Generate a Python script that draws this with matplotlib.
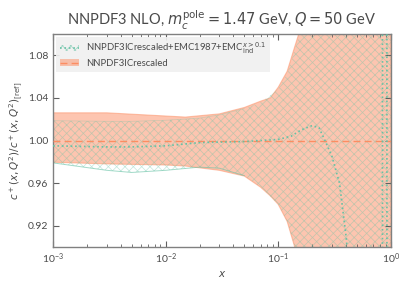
import numpy as np
import matplotlib
matplotlib.use("Agg")
import matplotlib.pyplot as plt
from matplotlib.patches import Patch
from matplotlib.lines import Line2D

plt.rcParams['font.family'] = ['Lato', 'DejaVu Sans']
plt.rcParams['mathtext.fontset'] = 'dejavusans'
plt.rcParams['hatch.linewidth'] = 0.5

TXT = '#4a4a4a'
ORANGE = '#fc8d62'
TEAL = '#66c2a5'

# NNPDF3ICrescaled (reference) band
x_ref = [1e-3, 3e-3, 1e-2, 1.5e-2, 3e-2, 5e-2, 7e-2, 0.085, 0.1, 0.12, 0.14, 0.15, 0.2, 0.3, 0.5, 0.7, 1.0]
ref_cv = [1.0] * len(x_ref)
ref_up = [1.026, 1.026, 1.023, 1.022, 1.025, 1.031, 1.037, 1.040, 1.050, 1.065, 1.088, 1.098, 1.2, 1.4, 1.8, 2.5, 4.0]
ref_lo = [0.9796, 0.978, 0.977, 0.976, 0.972, 0.9666, 0.956, 0.948, 0.94, 0.924, 0.90, 0.885, 0.8, 0.6, 0.2, -0.5, -2.0]

# NNPDF3ICrescaled+EMC1987+EMC_ind band
x_emc = [1e-3, 3e-3, 5e-3, 1e-2, 2e-2, 3e-2, 5e-2, 7e-2, 0.1, 0.12, 0.14, 0.15, 0.2, 0.3, 0.5, 0.7, 1.0]
emc_up = [1.0186, 1.018, 1.018, 1.019, 1.021, 1.024, 1.030, 1.036, 1.048, 1.063, 1.085, 1.095, 1.2, 1.4, 1.8, 2.5, 4.0]
emc_lo = [0.979, 0.972, 0.970, 0.972, 0.975, 0.974, 0.967, 0.956, 0.94, 0.924, 0.90, 0.885, 0.8, 0.6, 0.2, -0.5, -2.0]

x_cv = [1e-3, 3e-3, 5e-3, 1e-2, 2e-2, 3e-2, 5e-2, 0.1, 0.13, 0.16, 0.2, 0.23, 0.26, 0.3, 0.35, 0.4, 0.45, 0.6, 0.84, 0.845, 0.92, 0.925, 1.0]
emc_cv = [0.995, 0.994, 0.994, 0.995, 0.998, 0.9985, 0.999, 1.001, 1.004, 1.010, 1.014, 1.012, 1.0, 0.985, 0.96, 0.91, 0.85, 0.5, 0.2, 1.8, 1.8, 0.2, 0.2]

fig = plt.figure(figsize=(4.11, 2.87), dpi=100)
ax = fig.add_axes([0.129, 0.1394, 0.822, 0.7421])

ax.fill_between(x_ref, ref_lo, ref_up, facecolor=ORANGE, alpha=0.5, edgecolor=ORANGE, lw=0.8, zorder=1)
ax.plot(x_ref, ref_cv, color=ORANGE, ls=(0, (5, 3)), lw=1.0, zorder=3)

ax.fill_between(x_emc, emc_lo, emc_up, facecolor='none', edgecolor=TEAL, hatch='xxxx', lw=0, alpha=0.4, zorder=2)
n_vis = 7
ax.plot(x_emc[:n_vis], emc_lo[:n_vis], color=TEAL, lw=0.7, alpha=0.6, zorder=2)
ax.plot(x_emc[:n_vis], emc_up[:n_vis], color=TEAL, lw=0.5, alpha=0.3, zorder=2)
ax.plot(x_cv, emc_cv, color=TEAL, ls=':', lw=1.2, zorder=4)

ax.set_xscale('log')
ax.set_xlim(1e-3, 1.0)
ax.set_ylim(0.90, 1.10)
ax.set_yticks([0.92, 0.96, 1.00, 1.04, 1.08])
ax.set_yticklabels(['0.92', '0.96', '1.00', '1.04', '1.08'])

for s in ax.spines.values():
    s.set_color('#808080')
    s.set_linewidth(1.0)
ax.tick_params(which='both', direction='in', top=True, right=True, colors='#606060', labelcolor=TXT, labelsize=7.5)
ax.tick_params(which='major', length=4, width=0.8)
ax.tick_params(which='minor', length=2.5, width=0.6)

ax.set_xlabel('$x$', color=TXT, fontsize=7.5, labelpad=2)
ax.set_ylabel(r'$c^+(x,Q^2)/c^+(x,Q^2)_{\rm [ref]}$', color=TXT, fontsize=7.5, labelpad=2)
ax.set_title(r'NNPDF3 NLO, $m_c^{\rm pole}=1.47$ GeV, $Q=50$ GeV', color=TXT, fontsize=10.5, pad=6)

h1 = (Patch(facecolor='none', edgecolor=TEAL, hatch='xxxx', lw=0, alpha=0.6), Line2D([], [], color=TEAL, ls=':', lw=1.2))
h2 = (Patch(facecolor=ORANGE, alpha=0.5, edgecolor='none'), Line2D([], [], color=ORANGE, ls=(0, (5, 3)), lw=1.0))
leg = ax.legend([h1, h2], [r'NNPDF3ICrescaled+EMC1987+EMC$_{\rm ind}^{x>0.1}$', 'NNPDF3ICrescaled'],
                loc='upper left', fontsize=6.8, frameon=True, fancybox=False, borderaxespad=0.3,
                handlelength=2.0, labelspacing=0.35, borderpad=0.4)
leg.get_frame().set_facecolor('#f0f0f0')
leg.get_frame().set_edgecolor('none')
leg.get_frame().set_alpha(0.9)
for t in leg.get_texts():
    t.set_color(TXT)

fig.savefig('out.png', dpi=100)
